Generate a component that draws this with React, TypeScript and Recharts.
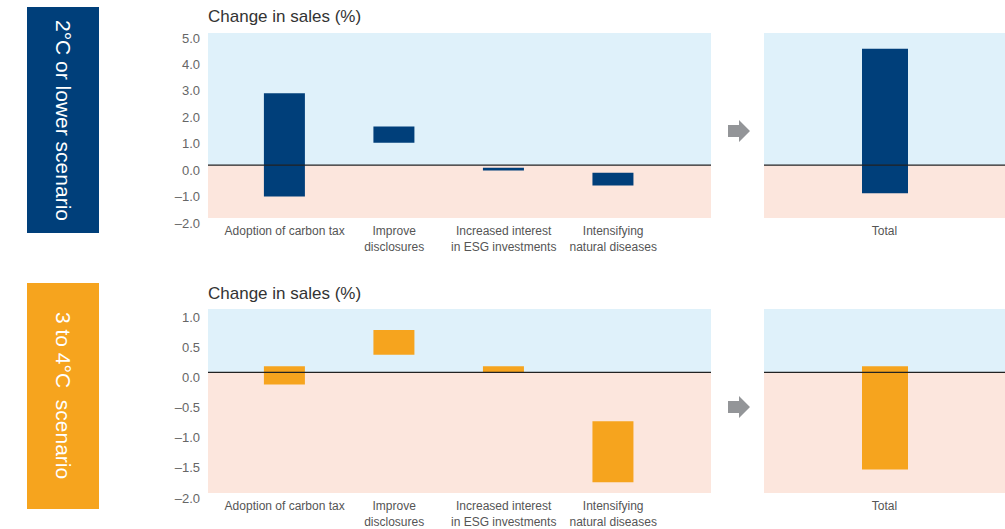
import React from 'react';
import {
  BarChart,
  Bar,
  XAxis,
  YAxis,
  ReferenceArea,
  ReferenceLine,
} from 'recharts';

const categories = [
  'Adoption of carbon tax',
  'Improve\ndisclosures',
  'Increased interest\nin ESG investments',
  'Intensifying\nnatural diseases',
];

// 2°C or lower scenario: each bar runs from low to high
const lowLowerScenario = [-1.19, 0.85, -0.2, -0.77];
const highLowerScenario = [2.72, 1.46, -0.1, -0.29];
const totalLowerScenario = [-1.06, 4.4];

// 3 to 4°C scenario
const lowHigherScenario = [-0.2, 0.29, 0, -1.82];
const highHigherScenario = [0.1, 0.7, 0.1, -0.81];
const totalHigherScenario = [-1.61, 0.1];

const ticksLower = [-2, -1, 0, 1, 2, 3, 4, 5];
const ticksHigher = [-2, -1.5, -1, -0.5, 0, 0.5, 1];

const FONT = '"Liberation Sans", Arial, Helvetica, sans-serif';
const BLUE = '#003f7a';
const ORANGE = '#f6a41e';
const SKY = '#dff1fa';
const PEACH = '#fce6dd';

const fmt = (v: number) => (v < 0 ? '\u2013' + Math.abs(v).toFixed(1) : v.toFixed(1));

const YTick = (props: any) => {
  const { x, y, payload } = props;
  return (
    <text x={x} y={y} dy={9.5} textAnchor="end" fontSize={13} fill="#666" fontFamily={FONT}>
      {fmt(payload.value)}
    </text>
  );
};

const XTick = (props: any) => {
  const { x, y, payload, labels } = props;
  const label = labels ? labels[payload.value] : payload.value;
  const lines = String(label ?? '').split('\n');
  return (
    <text x={x} y={y} textAnchor="middle" fontSize={12} fill="#555" fontFamily={FONT}>
      {lines.map((l, i) => (
        <tspan key={i} x={x} dy={i === 0 ? 17 : 16}>
          {l}
        </tspan>
      ))}
    </text>
  );
};

const Arrow = ({ top }: { top: number }) => (
  <svg style={{ position: 'absolute', left: 728, top }} width={24} height={24}>
    <polygon points="0,5 11,5 11,0 22,11 11,22 11,17 0,17" fill="#939598" />
  </svg>
);

const ScenarioBox = ({ top, color, text }: { top: number; color: string; text: string }) => (
  <div
    style={{
      position: 'absolute',
      left: 27,
      top,
      width: 72,
      height: 226,
      background: color,
      display: 'flex',
      alignItems: 'center',
      justifyContent: 'center',
    }}
  >
    <span
      style={{
        writingMode: 'vertical-rl',
        color: '#fff',
        fontSize: 21,
        fontFamily: FONT,
        whiteSpace: 'pre',
      }}
    >
      {text}
    </span>
  </div>
);

const Title = ({ top }: { top: number }) => (
  <div
    style={{
      position: 'absolute',
      left: 208,
      top,
      fontSize: 17,
      color: '#333',
      fontFamily: FONT,
      whiteSpace: 'nowrap',
    }}
  >
    Change in sales (%)
  </div>
);

type RowProps = {
  top: number;
  height: number;
  xAxisHeight: number;
  lows: number[];
  highs: number[];
  total: number[];
  domain: [number, number];
  ticks: number[];
  color: string;
};

const Row = ({ top, height, xAxisHeight, lows, highs, total, domain, ticks, color }: RowProps) => {
  const data = categories.map((c, i) => ({ pos: i, range: [lows[i], highs[i]] }));
  const totalData = [{ name: 'Total', range: total }];
  const margin = { top: 33, right: 0, bottom: 0, left: 0 };
  return (
    <>
      <div style={{ position: 'absolute', left: 0, top }}>
        <BarChart width={711} height={height} data={data} margin={margin}>
          <ReferenceArea y1={0} y2={domain[1]} fill={SKY} fillOpacity={1} stroke="none" />
          <ReferenceArea y1={domain[0]} y2={0} fill={PEACH} fillOpacity={1} stroke="none" />
          <XAxis
            dataKey="pos"
            type="number"
            domain={[-0.7, 3.893]}
            ticks={[0, 1, 2, 3]}
            axisLine={false}
            tickLine={false}
            tickSize={0}
            tickMargin={0}
            height={xAxisHeight}
            interval={0}
            tick={<XTick labels={categories} />}
          />
          <YAxis
            type="number"
            domain={domain}
            ticks={ticks}
            width={208}
            axisLine={false}
            tickLine={false}
            tickSize={0}
            tickMargin={8}
            interval={0}
            tick={<YTick />}
          />
          <Bar dataKey="range" fill={color} barSize={41} isAnimationActive={false} />
          <ReferenceLine y={0} stroke="#222" strokeWidth={1.2} />
        </BarChart>
      </div>
      <div style={{ position: 'absolute', left: 764, top }}>
        <BarChart width={241} height={height} data={totalData} margin={margin}>
          <ReferenceArea y1={0} y2={domain[1]} fill={SKY} fillOpacity={1} stroke="none" />
          <ReferenceArea y1={domain[0]} y2={0} fill={PEACH} fillOpacity={1} stroke="none" />
          <XAxis
            dataKey="name"
            axisLine={false}
            tickLine={false}
            tickSize={0}
            tickMargin={0}
            height={xAxisHeight}
            tick={<XTick />}
          />
          <YAxis type="number" domain={domain} hide />
          <Bar dataKey="range" fill={color} barSize={46} isAnimationActive={false} />
          <ReferenceLine y={0} stroke="#222" strokeWidth={1.2} />
        </BarChart>
      </div>
    </>
  );
};

export default function App() {
  return (
    <div
      style={{
        position: 'absolute',
        left: 0,
        top: 0,
        width: 1005,
        height: 529,
        overflow: 'hidden',
        background: '#fff',
        fontFamily: FONT,
      }}
    >
      <ScenarioBox top={7} color={BLUE} text={'2°C or lower scenario'} />
      <ScenarioBox top={283} color={ORANGE} text={'3 to 4°C  scenario'} />
      <Title top={7} />
      <Title top={284} />
      <Row
        top={0}
        height={260}
        xAxisHeight={42}
        lows={lowLowerScenario}
        highs={highLowerScenario}
        total={totalLowerScenario}
        domain={[-2, 5]}
        ticks={ticksLower}
        color={BLUE}
      />
      <Row
        top={276}
        height={253}
        xAxisHeight={36}
        lows={lowHigherScenario}
        highs={highHigherScenario}
        total={totalHigherScenario}
        domain={[-2, 1.05]}
        ticks={ticksHigher}
        color={ORANGE}
      />
      <Arrow top={120} />
      <Arrow top={396} />
    </div>
  );
}
